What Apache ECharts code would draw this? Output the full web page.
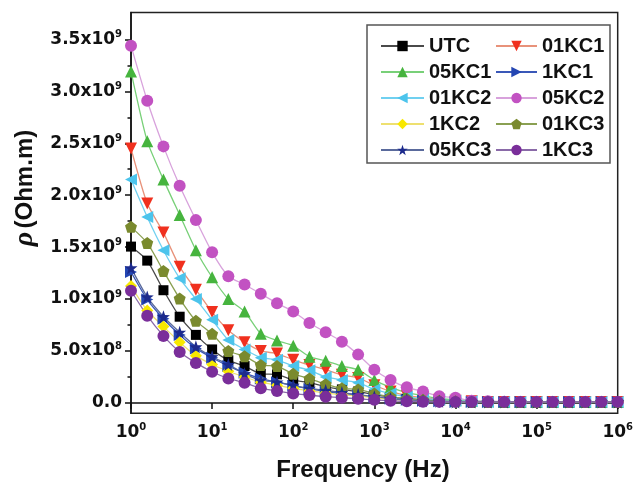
<!DOCTYPE html>
<html><head><meta charset="utf-8">
<script src="https://cdn.jsdelivr.net/npm/echarts@6/dist/echarts.min.js"></script>
<style>html,body{margin:0;padding:0;background:#fff}#c{width:636px;height:483px}</style>
</head><body><div id="c"></div>
<script>
// Frequencies (Hz), 5 points per decade
var freq = [1,1.585,2.512,3.981,6.310,10,15.85,25.12,39.81,63.10,100,158.5,251.2,398.1,631.0,1000,1585,2512,3981,6310,1e4,1.585e4,2.512e4,3.981e4,6.310e4,1e5,1.585e5,2.512e5,3.981e5,6.310e5,1e6];
// Resistivity values in units of 1e9 Ohm.m
var UTC   = [1.505,1.37,1.085,0.83,0.655,0.515,0.41,0.355,0.28,0.275,0.22,0.195,0.155,0.13,0.11,0.08,0.055,0.04,0.03,0.02,0.015,0.01,0.01,0.01,0.01,0.01,0.01,0.01,0.01,0.01,0.01];
var KC1_01= [2.45,1.92,1.64,1.31,1.09,0.875,0.70,0.585,0.50,0.475,0.415,0.365,0.32,0.27,0.24,0.17,0.11,0.07,0.05,0.03,0.02,0.015,0.01,0.01,0.01,0.01,0.01,0.01,0.01,0.01,0.01];
var KC1_05= [3.19,2.52,2.15,1.81,1.47,1.21,1.00,0.88,0.665,0.60,0.55,0.445,0.405,0.355,0.32,0.22,0.15,0.10,0.07,0.04,0.03,0.02,0.015,0.01,0.01,0.01,0.01,0.01,0.01,0.01,0.01];
var KC1_1 = [1.26,0.995,0.81,0.655,0.525,0.435,0.355,0.29,0.235,0.20,0.165,0.135,0.11,0.09,0.075,0.055,0.04,0.03,0.02,0.015,0.01,0.01,0.01,0.01,0.01,0.01,0.01,0.01,0.01,0.01,0.01];
var KC2_01= [2.15,1.79,1.47,1.20,1.00,0.80,0.605,0.515,0.435,0.415,0.355,0.315,0.25,0.22,0.195,0.13,0.09,0.06,0.04,0.03,0.02,0.015,0.01,0.01,0.01,0.01,0.01,0.01,0.01,0.01,0.01];
var KC2_05= [3.44,2.91,2.47,2.09,1.76,1.45,1.22,1.14,1.05,0.96,0.88,0.77,0.68,0.59,0.465,0.32,0.22,0.15,0.11,0.065,0.05,0.02,0.015,0.012,0.01,0.01,0.01,0.01,0.01,0.01,0.01];
var KC2_1 = [1.125,0.89,0.735,0.585,0.455,0.37,0.305,0.25,0.20,0.17,0.14,0.115,0.095,0.08,0.065,0.05,0.035,0.025,0.02,0.015,0.01,0.01,0.01,0.01,0.01,0.01,0.01,0.01,0.01,0.01,0.01];
var KC3_01= [1.695,1.54,1.27,1.005,0.79,0.665,0.50,0.45,0.365,0.355,0.28,0.235,0.18,0.14,0.13,0.09,0.06,0.04,0.03,0.02,0.015,0.01,0.01,0.01,0.01,0.01,0.01,0.01,0.01,0.01,0.01];
var KC3_05= [1.30,1.02,0.83,0.68,0.54,0.445,0.37,0.28,0.22,0.20,0.17,0.14,0.12,0.10,0.08,0.06,0.04,0.03,0.02,0.015,0.01,0.01,0.01,0.01,0.01,0.01,0.01,0.01,0.01,0.01,0.01];
var KC3_1 = [1.08,0.84,0.645,0.49,0.385,0.30,0.235,0.195,0.14,0.115,0.09,0.075,0.06,0.05,0.04,0.03,0.02,0.015,0.012,0.01,0.01,0.01,0.01,0.01,0.01,0.01,0.01,0.01,0.01,0.01,0.01];
var yTickValues = [0,0.5e9,1.0e9,1.5e9,2.0e9,2.5e9,3.0e9,3.5e9];
var yTickLabels = ['0.0','5.0x10|8','1.0x10|9','1.5x10|9','2.0x10|9','2.5x10|9','3.0x10|9','3.5x10|9'];
var yMinorValues = [0.25e9,0.75e9,1.25e9,1.75e9,2.25e9,2.75e9,3.25e9];

var PENT = 'path://M0,-10 L9.51,-3.09 L5.88,8.09 L-5.88,8.09 L-9.51,-3.09 Z';
var STAR = 'path://M0,-10 L2.35,-3.24 L9.51,-3.09 L3.80,1.24 L5.88,8.09 L0,4 L-5.88,8.09 L-3.80,1.24 L-9.51,-3.09 L-2.35,-3.24 Z';

var defs = [
  {name:'UTC',   data:UTC,    m:'#000000', l:'#4a4a4a', sym:'rect', size:10, rot:0},
  {name:'01KC1', data:KC1_01, m:'#f0301e', l:'#e8927a', sym:'triangle', size:12, rot:180},
  {name:'05KC1', data:KC1_05, m:'#46b43e', l:'#78d078', sym:'triangle', size:12, rot:0},
  {name:'1KC1',  data:KC1_1,  m:'#2446b2', l:'#3a58b8', sym:'triangle', size:12, rot:-90},
  {name:'01KC2', data:KC2_01, m:'#4cc4ec', l:'#70d0f0', sym:'triangle', size:12, rot:90},
  {name:'05KC2', data:KC2_05, m:'#c252c2', l:'#d8a2dc', sym:'circle', size:12, rot:0},
  {name:'1KC2',  data:KC2_1,  m:'#f8e800', l:'#eee070', sym:'diamond', size:12, rot:0},
  {name:'01KC3', data:KC3_01, m:'#7a8a2e', l:'#8aa052', sym:PENT, size:12, rot:0},
  {name:'05KC3', data:KC3_05, m:'#1c2a8c', l:'#5a6a9c', sym:STAR, size:13, rot:0},
  {name:'1KC3',  data:KC3_1,  m:'#7a2e9a', l:'#8a6aa8', sym:'circle', size:12, rot:0}
];

var series = defs.map(function(d){
  return {
    name:d.name, type:'line', smooth:0.2,
    data: freq.map(function(f,i){ return [f, d.data[i]*1e9]; }),
    symbol:d.sym, symbolSize:d.size, symbolRotate:d.rot, showSymbol:true,
    itemStyle:{color:d.m}, lineStyle:{color:d.l, width:1.3},
    emphasis:{disabled:true}, animation:false
  };
});

var legendText = {fontFamily:'Liberation Sans, Arial, sans-serif', fontWeight:'bold', fontSize:20, color:'#111'};
var chart = echarts.init(document.getElementById('c'), null, {renderer:'canvas'});
chart.setOption({
  backgroundColor:'#ffffff',
  animation:false,
  grid:{left:131, right:16, top:12.4, bottom:69.7, show:true, borderColor:'#222', borderWidth:1.5, backgroundColor:'transparent'},
  xAxis:{
    type:'log', logBase:10, min:1, max:1e6,
    axisLine:{show:true, lineStyle:{color:'#111', width:1.5}},
    axisTick:{show:true, inside:false, length:6, lineStyle:{color:'#111', width:1.5}},
    minorTick:{show:false}, splitLine:{show:false},
    axisLabel:{margin:9, formatter:function(v){ return '{b|10}{s|' + Math.round(Math.log10(v)) + '}'; },
      rich:{b:{fontFamily:'DejaVu Sans', fontWeight:'bold', fontSize:17, color:'#111'},
            s:{fontFamily:'DejaVu Sans', fontWeight:'bold', fontSize:10, color:'#111', verticalAlign:'top', padding:[0,0,10,0]}}}
  },
  yAxis:[{
    type:'value', min:-0.1e9, max:3.76e9,
    axisLine:{show:true, lineStyle:{color:'#111', width:1.5}},
    axisTick:{show:true, length:6, customValues:yTickValues, lineStyle:{color:'#111', width:1.5}},
    splitLine:{show:false},
    axisLabel:{customValues:yTickValues, margin:9, formatter:function(v){
        var idx = yTickValues.indexOf(v); if(idx<0) return '';
        var t = yTickLabels[idx].split('|');
        return t.length>1 ? '{b|'+t[0]+'}{s|'+t[1]+'}' : '{b|'+t[0]+'}';
      },
      rich:{b:{fontFamily:'DejaVu Sans', fontWeight:'bold', fontSize:17, color:'#111'},
            s:{fontFamily:'DejaVu Sans', fontWeight:'bold', fontSize:10, color:'#111', verticalAlign:'top', padding:[0,0,10,0]}}}
  },{
    type:'value', min:-0.1e9, max:3.76e9, position:'left',
    axisLine:{show:false},
    axisTick:{show:true, length:3.5, customValues:yMinorValues, lineStyle:{color:'#111', width:1.5}},
    axisLabel:{show:false}, splitLine:{show:false}
  }],
  legend:[{
    data:['UTC','05KC1','01KC2','1KC2','05KC3'], orient:'vertical', left:375, top:31,
    itemWidth:43, itemHeight:13, itemGap:6, textStyle:legendText, z:10, selectedMode:false
  },{
    data:['01KC1','1KC1','05KC2','01KC3','1KC3'], orient:'vertical', left:490, top:31,
    itemWidth:41, itemHeight:13, itemGap:6, textStyle:legendText, z:10, selectedMode:false
  }],
  graphic:[
    {type:'rect', z:1, shape:{x:367, y:25, width:243, height:138}, style:{fill:'#fff', stroke:'#555', lineWidth:1.5}},
    {type:'text', z:5, x:363, y:470, style:{text:'Frequency (Hz)', font:'bold 24px "Liberation Sans", Arial, sans-serif', fill:'#111', align:'center', verticalAlign:'middle'}},
    {type:'text', z:5, x:25, y:188, rotation:Math.PI/2, style:{text:'{r|ρ} {t|(Ohm.m)}', align:'center', verticalAlign:'middle',
      rich:{r:{font:'italic bold 28px "Liberation Serif", serif', fill:'#111'}, t:{font:'bold 24px "Liberation Sans", Arial, sans-serif', fill:'#111'}}}}
  ],
  series: series
});
</script></body></html>
